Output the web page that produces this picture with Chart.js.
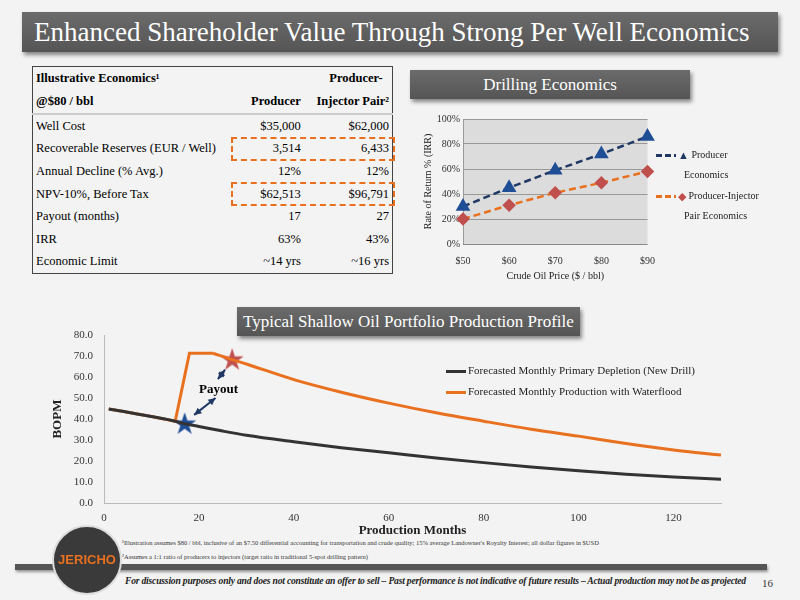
<!DOCTYPE html>
<html>
<head>
<meta charset="utf-8">
<script src="https://cdn.jsdelivr.net/npm/chart.js@4"></script>
<style>
  body { margin: 0; width: 800px; height: 600px; background: #f3f3f3; font-family: "Times New Roman", "Liberation Serif", serif; position: relative; overflow: hidden; }
  .bar { position: absolute; background: linear-gradient(#6b6b6b, #555); color: #fff; box-shadow: 2px 3px 4px rgba(0,0,0,0.45); text-align: center; font-family: "Times New Roman", "Liberation Serif", serif; }
  #title { left: 22px; top: 12px; width: 756px; height: 40px; font-size: 27px; line-height: 40px; text-align: left; padding-left: 12px; box-sizing: border-box; }
  #drill { left: 410px; top: 70px; width: 280px; height: 29px; font-size: 17px; line-height: 29px; }
  #profile { left: 237px; top: 307px; width: 343px; height: 29px; font-size: 17px; line-height: 29px; }
  table { position: absolute; left: 32px; top: 66px; width: 361px; border: 1px solid #444; border-collapse: collapse; font-size: 12.5px; background: #f3f3f3; }
  td { height: 22.6px; padding: 0 3px; }
  td.r { text-align: right; }
  tr.h td { font-weight: bold; height: 23px; }
  tr.sep td { border-bottom: 2px solid #ccc; }
  .dash { position: absolute; border: 2px dashed #e8701e; }
  .leg { position: absolute; font-size: 10px; color: #222; }
  .leg span { display: inline-block; vertical-align: middle; }
  .legb { position: absolute; font-size: 11px; color: #222; }
  .ln { display: inline-block; width: 20px; height: 3px; vertical-align: middle; margin-right: 2px; }
  .foot { position: absolute; font-size: 6.5px; color: #333; left: 122px; }
  #rule { position: absolute; left: 15px; top: 564px; width: 752px; height: 6px; background: #555; box-shadow: 1px 2px 3px rgba(0,0,0,0.4); }
  #logo { position: absolute; left: 52px; top: 525px; width: 66px; height: 66px; border-radius: 50%; background: #3a3a3a; border: 2px solid #ddd; color: #e8701e; font: bold 13px "Liberation Sans Narrow", "Liberation Sans"; text-align: center; line-height: 66px; }
  #disc { position: absolute; left: 125px; top: 575px; font-size: 9.6px; font-style: italic; font-weight: bold; color: #222; white-space: nowrap; letter-spacing: -0.2px; }
  #pg { position: absolute; left: 762px; top: 577px; font-size: 11px; color: #333; }
</style>
</head>
<body>
<div class="bar" id="title">Enhanced Shareholder Value Through Strong Per Well Economics</div>

<table>
  <tr class="h"><td>Illustrative Economics¹</td><td></td><td class="r">Producer-&nbsp;&nbsp;</td></tr>
  <tr class="h sep"><td>@$80 / bbl</td><td class="r">Producer</td><td class="r">Injector Pair²</td></tr>
  <tr><td>Well Cost</td><td class="r">$35,000</td><td class="r">$62,000</td></tr>
  <tr><td>Recoverable Reserves (EUR / Well)</td><td class="r">3,514</td><td class="r">6,433</td></tr>
  <tr><td>Annual Decline (% Avg.)</td><td class="r">12%</td><td class="r">12%</td></tr>
  <tr><td>NPV-10%, Before Tax</td><td class="r">$62,513</td><td class="r">$96,791</td></tr>
  <tr><td>Payout (months)</td><td class="r">17</td><td class="r">27</td></tr>
  <tr><td>IRR</td><td class="r">63%</td><td class="r">43%</td></tr>
  <tr><td>Economic Limit</td><td class="r">~14 yrs</td><td class="r">~16 yrs</td></tr>
</table>
<div class="dash" style="left:231px;top:137px;width:160px;height:20px;"></div>
<div class="dash" style="left:231px;top:182px;width:160px;height:20px;"></div>

<div class="bar" id="drill">Drilling Economics</div>
<div style="position:absolute;left:418px;top:110px;width:240px;height:172px;"><canvas id="irr"></canvas></div>
<div class="leg" style="left:656px;top:145px;line-height:19px;">
  <div><span class="ln" style="background:repeating-linear-gradient(90deg,#1f3864 0 6px,transparent 6px 9px);"></span><span style="color:#1f3864;font-size:11px;">▲</span> Producer</div>
  <div style="padding-left:28px;">Economics</div>
  <div style="margin-top:2px;"><span class="ln" style="background:repeating-linear-gradient(90deg,#e8701e 0 6px,transparent 6px 9px);"></span><span style="color:#c0504d;font-size:11px;">◆</span> Producer-Injector</div>
  <div style="padding-left:28px;">Pair Economics</div>
</div>

<div class="bar" id="profile">Typical Shallow Oil Portfolio Production Profile</div>
<div style="position:absolute;left:46px;top:322px;width:688px;height:216px;"><canvas id="prod"></canvas></div>
<div class="legb" style="left:446px;top:360px;line-height:21px;">
  <div><span class="ln" style="background:#333;"></span>Forecasted Monthly Primary Depletion (New Drill)</div>
  <div><span class="ln" style="background:#e8701e;"></span>Forecasted Monthly Production with Waterflood</div>
</div>
<div style="position:absolute;left:199px;top:381px;font-size:13px;font-weight:bold;">Payout</div>

<div class="foot" style="top:539px;">¹Illustration assumes $80 / bbl, inclusive of an $7.50 differential accounting for transportation and crude quality; 15% average Landowner's Royalty Interest; all dollar figures in $USD</div>
<div class="foot" style="top:553px;">²Assumes a 1:1 ratio of producers to injectors (target ratio in traditional 5-spot drilling pattern)</div>
<div id="rule"></div>
<div id="logo">JERICHO</div>
<div id="disc">For discussion purposes only and does not constitute an offer to sell – Past performance is not indicative of future results – Actual production may not be as projected</div>
<div id="pg">16</div>

<script>
const prices = ['$50', '$60', '$70', '$80', '$90'];
const producerIrr = [30, 45, 59, 72, 86];
const pairIrr = [20, 31, 41, 49, 58];

const primaryDepletion = [
  [1, 44.8], [5, 43.3], [10, 41.2], [15, 39], [17, 37.8], [20, 36.5], [25, 34.3], [30, 32.3],
  [40, 29.2], [50, 26.4], [60, 24], [70, 21.5], [80, 19.3], [90, 17.2], [100, 15.4],
  [110, 13.8], [120, 12.5], [130, 11.4]
];
// flood response: straight ramp and plateau, then smooth decline
const waterfloodRamp = [[1, 44.8], [5, 43.3], [10, 41.2], [15, 39], [18, 71.3], [23, 71.3]];
const waterfloodDecline = [
  [23, 71.3], [27, 68.3], [30, 66.2], [40, 58.8], [50, 52.8], [60, 47.6], [70, 43], [80, 39],
  [90, 35.2], [100, 31.9], [110, 28.4], [120, 25.3], [130, 22.9]
];
const payoutStars = [[17, 37.8], [27, 68.3]];

const serif = 'Times New Roman, Liberation Serif, serif';
const toXY = arr => arr.map(p => ({ x: p[0], y: p[1] }));
const tickFont = { family: serif, size: 11 };
const smallFont = { family: serif, size: 10 };

function starImage(color) {
  const c = document.createElement('canvas');
  c.width = 24; c.height = 24;
  const g = c.getContext('2d');
  g.fillStyle = color;
  g.beginPath();
  for (let i = 0; i < 10; i++) {
    const r = i % 2 ? 4.6 : 12;
    const a = -Math.PI / 2 + i * Math.PI / 5;
    g.lineTo(12 + r * Math.cos(a), 12.5 + r * Math.sin(a));
  }
  g.closePath(); g.fill();
  return c;
}

new Chart(document.getElementById('irr'), {
  type: 'line',
  data: {
    labels: prices,
    datasets: [
      { data: producerIrr, borderColor: '#1f3864', borderDash: [7, 4], borderWidth: 2.5,
        pointStyle: 'triangle', pointRadius: 6, pointBackgroundColor: '#1f4e96', pointBorderColor: '#1f4e96' },
      { data: pairIrr, borderColor: '#e8701e', borderDash: [7, 4], borderWidth: 2.5,
        pointStyle: 'rectRot', pointRadius: 5, pointBackgroundColor: '#c0504d', pointBorderColor: '#c0504d' }
    ]
  },
  options: {
    responsive: true, maintainAspectRatio: false, animation: false,
    plugins: { legend: { display: false } },
    scales: {
      y: { min: 0, max: 100, ticks: { stepSize: 20, callback: v => v + '%', font: smallFont, color: '#333' },
           grid: { color: '#999', drawTicks: false }, border: { color: '#999' },
           afterFit: s => { s.width = 45; },
           title: { display: true, text: 'Rate of Return % (IRR)', font: smallFont, color: '#222' } },
      x: { ticks: { font: smallFont, color: '#333' }, grid: { display: false },
           title: { display: true, text: 'Crude Oil Price ($ / bbl)', font: smallFont, color: '#222', padding: 0 } }
    }
  },
  plugins: [{
    id: 'bg',
    beforeDraw(c) {
      const a = c.chartArea;
      c.ctx.save(); c.ctx.fillStyle = '#dcdcdc';
      c.ctx.fillRect(a.left, a.top, a.right - a.left, a.bottom - a.top); c.ctx.restore();
    }
  }]
});

new Chart(document.getElementById('prod'), {
  type: 'line',
  data: {
    datasets: [
      { data: toXY(primaryDepletion), borderColor: '#333', borderWidth: 3, pointRadius: 0, cubicInterpolationMode: 'monotone' },
      { data: toXY(waterfloodRamp), borderColor: '#e8701e', borderWidth: 3, pointRadius: 0, tension: 0 },
      { data: toXY(waterfloodDecline), borderColor: '#e8701e', borderWidth: 3, pointRadius: 0, cubicInterpolationMode: 'monotone' },
      { type: 'scatter', data: toXY(payoutStars.slice(0, 1)), pointStyle: starImage('#1f4e96'), pointRadius: 12 },
      { type: 'scatter', data: toXY(payoutStars.slice(1)), pointStyle: starImage('#c0504d'), pointRadius: 12 }
    ]
  },
  options: {
    responsive: true, maintainAspectRatio: false, animation: false,
    plugins: { legend: { display: false }, tooltip: { enabled: false } },
    scales: {
      x: { type: 'linear', min: 0, max: 130, ticks: { stepSize: 20, padding: 0, font: tickFont, color: '#333', callback: v => v <= 120 ? v : '' },
           grid: { display: false }, border: { color: '#bbb' },
           title: { display: true, text: 'Production Months', font: { size: 13, weight: 'bold', family: serif }, color: '#222', padding: { top: -2, bottom: 0 } } },
      y: { min: 0, max: 80, ticks: { stepSize: 10, font: tickFont, color: '#333', callback: v => v.toFixed(1) },
           grid: { display: false }, border: { color: '#bbb' },
           afterFit: s => { s.width = 58; },
           title: { display: true, text: 'BOPM', font: { size: 13, weight: 'bold', family: serif }, color: '#222' } }
    }
  },
  plugins: [{
    id: 'arrows',
    afterDatasetsDraw(c) {
      const x = c.scales.x, y = c.scales.y, g = c.ctx;
      const arrow = (x1, y1, x2, y2) => {
        const ax = x.getPixelForValue(x1), ay = y.getPixelForValue(y1);
        const bx = x.getPixelForValue(x2), by = y.getPixelForValue(y2);
        g.save(); g.strokeStyle = '#1f3864'; g.fillStyle = '#1f3864'; g.lineWidth = 2;
        g.beginPath(); g.moveTo(ax, ay); g.lineTo(bx, by); g.stroke();
        [[ax, ay, bx, by], [bx, by, ax, ay]].forEach(([px, py, qx, qy]) => {
          const ang = Math.atan2(qy - py, qx - px);
          g.beginPath(); g.moveTo(qx, qy);
          g.lineTo(qx - 8 * Math.cos(ang - 0.45), qy - 8 * Math.sin(ang - 0.45));
          g.lineTo(qx - 8 * Math.cos(ang + 0.45), qy - 8 * Math.sin(ang + 0.45));
          g.closePath(); g.fill();
        });
        g.restore();
      };
      arrow(23.5, 50, 19, 42);
      arrow(24, 59, 25.5, 63.5);
    }
  }]
});
</script>
</body>
</html>
